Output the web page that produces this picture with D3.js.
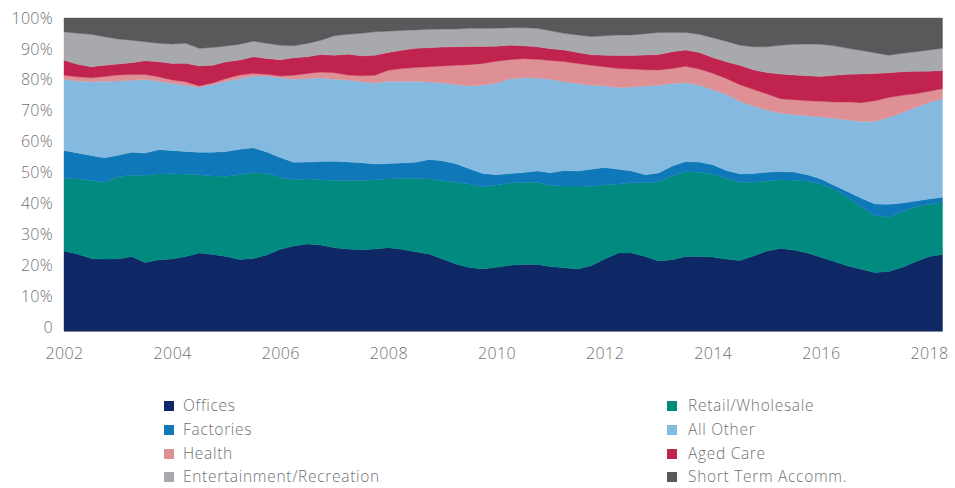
<!DOCTYPE html>
<html><head><meta charset="utf-8">
<script src="https://cdn.jsdelivr.net/npm/d3@7"></script>
<style>body{margin:0;background:#fff}svg{display:block}</style>
</head><body>
<svg id="chart" width="955" height="488"></svg>
<script>
// Quarterly shares (%), first quarter = 2002, last = 2018.25
const seriesNames = ["Offices","Retail/Wholesale","Factories","All Other","Health","Aged Care","Entertainment/Recreation","Short Term Accomm."];
const seriesColors = ["#0d2864","#008a80","#0e78b8","#85bae0","#de9094","#c1234f","#a7a9ac","#58595b"];
const legendOrder = ["Offices","Retail/Wholesale","Factories","All Other","Health","Aged Care","Entertainment/Recreation","Short Term Accomm."];
const startYear = 2002;
const xTickYears = [2002,2004,2006,2008,2010,2012,2014,2016,2018];
const yTickValues = [0,0.1,0.2,0.3,0.4,0.5,0.6,0.7,0.8,0.9,1];

const offices = [25.6,24.6,23.2,23.0,23.0,23.8,21.9,22.8,23.0,23.8, 24.9,24.5,23.8,22.8,23.2,24.3,26.1,27.2,27.8,27.5, 26.6,26.2,26.0,26.2,26.6,26.2,25.3,24.6,23.0,21.4, 20.3,19.8,20.4,21.0,21.3,21.3,20.6,20.2,19.8,20.8, 23.0,24.9,24.9,23.8,22.4,22.8,23.8,23.8,23.6,23.0, 22.5,24.0,25.5,26.4,25.9,24.9,23.6,22.2,20.8,19.8, 18.7,19.0,20.3,22.1,23.8,24.5];
const retail = [23.2,24.0,24.9,24.6,26.2,26.0,27.9,27.4,27.2,26.3, 25.0,25.1,25.6,27.1,27.4,26.0,23.0,21.2,20.8,20.9, 21.5,21.9,22.1,22.2,22.0,22.7,23.5,24.0,25.1,26.2, 26.7,26.2,26.3,26.3,26.3,26.3,25.9,26.1,26.5,25.4, 23.7,22.1,22.4,23.5,25.3,26.7,27.1,26.9,26.5,25.8, 25.0,23.5,22.4,22.0,22.3,23.0,23.4,23.0,21.9,19.8, 18.2,17.4,17.8,17.6,16.7,16.5];
const factories = [8.9,8.3,8.0,7.8,6.9,7.4,7.1,7.8,7.5,7.3, 7.2,7.6,7.9,8.1,8.0,6.9,6.3,5.6,5.3,5.8, 6.2,5.9,5.7,5.0,4.9,4.9,5.1,6.2,6.3,5.9, 4.8,4.3,3.3,3.0,3.1,3.6,4.1,4.9,4.8,5.4, 5.6,4.7,3.8,2.6,2.8,3.2,3.2,3.2,3.0,2.5, 2.7,2.8,2.8,2.6,2.6,2.0,1.6,1.3,1.8,2.9, 3.7,4.1,2.8,1.8,1.7,1.8];
const allOther = [22.8,23.0,23.5,24.5,23.7,23.0,23.5,21.9,21.4,21.2, 20.8,21.6,22.4,22.6,22.9,24.3,25.5,26.5,26.7,26.7, 26.2,26.2,25.9,25.9,26.3,26.1,25.9,24.8,24.9,25.3, 26.5,28.3,29.2,30.3,30.3,29.7,29.9,28.4,28.0,26.8, 26.1,26.1,26.8,28.3,28.0,26.4,25.1,24.6,23.9,24.3, 23.2,21.6,19.8,18.7,18.4,18.8,19.8,21.5,22.9,24.6, 26.4,27.8,28.8,29.9,30.8,31.5];
const health = [1.3,1.3,1.3,1.5,1.9,1.8,1.6,1.4,1.1,1.1, 0.4,0.5,0.9,1.1,0.9,0.5,0.6,1.3,1.6,1.9, 2.1,1.6,1.9,2.5,3.5,4.1,4.4,4.8,5.4,6.2, 6.8,6.9,7.1,6.1,6.1,6.0,6.0,6.4,6.4,6.4, 6.1,6.1,5.7,5.2,4.9,4.8,5.3,5.1,5.3,5.1, 5.3,5.3,5.2,4.6,4.7,4.8,5.0,5.2,5.8,6.0, 6.6,6.4,5.6,4.4,3.6,3.2];
const agedCare = [4.8,4.0,3.5,3.6,3.5,3.8,4.4,4.8,5.3,5.9, 6.4,5.7,5.3,4.8,5.3,5.1,5.2,5.6,5.3,5.6, 5.6,6.6,6.4,6.4,5.7,5.9,6.1,6.1,6.0,5.9, 5.8,5.4,4.8,4.6,4.1,4.0,3.8,3.7,3.5,3.4, 3.7,4.1,4.3,4.7,4.9,5.3,5.2,5.3,5.0,5.3, 6.2,6.3,6.8,7.9,7.9,8.0,7.9,8.5,8.8,9.2, 8.7,7.9,7.5,7.2,6.4,5.8];
const entertainment = [9.1,9.9,10.4,9.1,8.0,7.2,6.1,5.9,6.2,6.4, 5.6,5.7,5.1,5.0,5.0,4.8,4.6,3.8,4.3,4.6, 6.2,6.4,7.2,7.5,6.8,6.3,5.9,5.9,5.8,5.7, 5.8,5.8,5.7,5.6,5.8,5.9,5.7,5.3,5.6,5.8, 6.2,6.6,6.6,6.8,7.1,6.2,5.6,5.8,6.3,6.6, 6.4,7.3,8.2,9.2,9.8,10.1,10.3,9.4,8.3,7.5, 6.6,5.6,5.9,6.2,6.8,7.1];
const shortTerm = [4.4,4.9,5.2,6.0,6.7,7.1,7.6,8.1,8.3,8.1, 9.7,9.4,8.9,8.4,7.4,8.1,8.7,8.9,8.1,7.1, 5.7,5.2,4.9,4.4,4.2,4.0,3.8,3.6,3.5,3.5, 3.3,3.3,3.3,3.1,3.1,3.3,4.1,4.9,5.4,5.9, 5.7,5.4,5.4,5.0,4.6,4.6,4.6,5.2,6.3,7.4, 8.7,9.2,9.2,8.7,8.4,8.3,8.4,8.9,9.7,10.4, 11.1,11.9,11.3,10.8,10.2,9.7];

const seriesValues = [offices, retail, factories, allOther, health, agedCare, entertainment, shortTerm];

const table = offices.map((_, i) => {
  const row = { t: startYear + i / 4 };
  seriesNames.forEach((n, k) => row[n] = seriesValues[k][i]);
  return row;
});

const svg = d3.select("#chart");
const x = d3.scaleLinear().domain([startYear, startYear + (offices.length - 1) / 4]).range([64, 942.5]);
const y = d3.scaleLinear().domain([0, 1]).range([331, 18]);
const yLab = d3.scaleLinear().domain([0, 1]).range([327, 18]);
const color = d3.scaleOrdinal().domain(seriesNames).range(seriesColors);

const stack = d3.stack().keys(seriesNames).offset(d3.stackOffsetExpand);
const layers = stack(table);
const area = d3.area().x(d => x(d.data.t)).y0(d => y(d[0])).y1(d => y(d[1]));

svg.append("g").selectAll("path").data(layers).join("path")
  .attr("d", area).attr("fill", d => color(d.key))
  .attr("stroke", d => color(d.key)).attr("stroke-width", 0.4);

svg.append("line").attr("x1", 64).attr("x2", 942.5).attr("y1", 331.5).attr("y2", 331.5)
  .attr("stroke", "#7d8a96").attr("stroke-width", 1.2);

const font = "'Open Sans', Lato, sans-serif";
const textColor = "#707174";

const yAxis = svg.append("g").attr("transform", "translate(53,0)")
  .call(d3.axisLeft(yLab).tickValues(yTickValues).tickSize(0).tickPadding(0)
    .tickFormat(d => d === 0 ? "0" : Math.round(d * 100) + "%"));
yAxis.select(".domain").remove();
yAxis.selectAll("text").attr("fill", textColor).style("font-family", font)
  .style("font-size", "16px").style("font-weight", 300).style("letter-spacing", "0.3px");

const xAxis = svg.append("g").attr("transform", "translate(0,348)")
  .call(d3.axisBottom(x).tickValues(xTickYears).tickSize(0).tickPadding(0).tickFormat(d3.format("d")));
xAxis.select(".domain").remove();
xAxis.selectAll("text").attr("fill", textColor).style("font-family", font)
  .style("font-size", "16px").style("font-weight", 300).style("letter-spacing", "0.4px");

// legend
const legendX = [164, 667];
const legendTextX = [183, 688];
const legendY = [406, 430, 454, 477];
const lg = svg.append("g");
legendOrder.forEach((name, k) => {
  const col = k % 2, row = Math.floor(k / 2);
  lg.append("rect").attr("x", legendX[col]).attr("y", legendY[row] - 5)
    .attr("width", 10).attr("height", 10).attr("fill", color(name));
  lg.append("text").attr("x", legendTextX[col]).attr("y", legendY[row]).attr("dy", "0.35em")
    .attr("fill", textColor).style("font-family", font).style("font-size", "15.5px")
    .style("font-weight", 300).style("letter-spacing", "0.7px").text(name);
});
</script>
</body></html>
